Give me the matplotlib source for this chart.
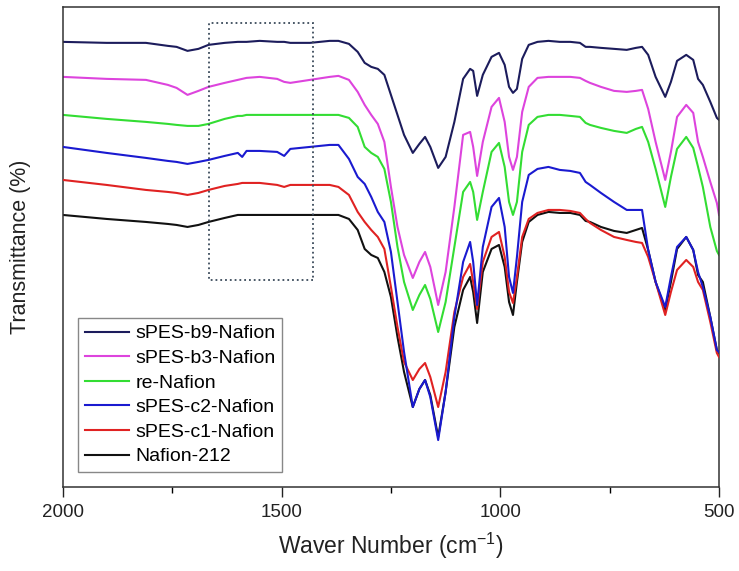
import matplotlib.pyplot as plt
from matplotlib.patches import Rectangle
from matplotlib.ticker import MultipleLocator

plt.rcParams['font.family'] = ['Liberation Sans', 'DejaVu Sans']
plt.rcParams['mathtext.fontset'] = 'custom'
plt.rcParams['mathtext.rm'] = 'Liberation Sans'
plt.rcParams['mathtext.default'] = 'regular'

# wavenumbers (cm-1) where the curves were read
wn = [2000, 1900, 1810, 1760, 1740, 1715, 1690, 1667, 1630, 1600, 1590, 1580,
      1550, 1510, 1494, 1480, 1435, 1390, 1370, 1346, 1326, 1310, 1295, 1280,
      1265, 1250, 1235, 1220, 1200, 1185, 1172, 1160, 1142, 1125, 1105, 1085,
      1069, 1062, 1053, 1040, 1020, 1003, 990, 980, 971, 962, 950, 935,
      915, 890, 864, 840, 818, 805, 795, 770, 740, 711, 690, 676,
      662, 645, 623, 610, 596, 575, 559, 548, 537, 520, 505, 500]

# transmittance, arbitrary units (curves are offset)
b9 = [445, 444, 444, 441, 440, 436, 438, 442, 444, 445, 445, 445,
      446, 445, 445, 444, 444, 446, 446, 443, 435, 424, 420, 418,
      412, 392, 372, 352, 334, 343, 350, 340, 319, 330, 365, 408,
      418, 416, 391, 412, 430, 434, 422, 400, 394, 398, 428, 442,
      445, 446, 445, 445, 444, 440, 440, 439, 438, 437, 439, 440,
      432, 410, 390, 405, 426, 432, 427, 408, 402, 385, 369, 367]
b3 = [410, 408, 407, 402, 399, 392, 396, 400, 404, 407, 408, 409,
      410, 408, 405, 404, 407, 410, 411, 407, 395, 382, 372, 363,
      345, 300, 260, 232, 209, 225, 235, 220, 182, 215, 280, 352,
      355, 340, 311, 345, 380, 389, 365, 330, 317, 330, 375, 400,
      409, 410, 410, 410, 409, 406, 404, 400, 396, 395, 396, 397,
      378, 345, 307, 335, 370, 382, 374, 345, 330, 305, 284, 272]
re_nafion = [372, 368, 365, 363, 362, 361, 361, 363, 368, 371, 371, 372,
             372, 372, 372, 372, 372, 372, 372, 369, 360, 340, 334, 330,
             318, 285, 240, 205, 177, 192, 202, 188, 155, 185, 240, 295,
             305, 295, 267, 295, 335, 344, 320, 285, 272, 285, 335, 362,
             370, 372, 372, 371, 370, 364, 362, 359, 356, 354, 358, 360,
             345, 318, 280, 310, 338, 350, 339, 320, 300, 260, 236, 232]
c2 = [340, 334, 329, 326, 325, 323, 325, 327, 331, 334, 330, 336,
      336, 335, 331, 338, 340, 342, 342, 328, 310, 303, 290, 275,
      265, 235, 185, 135, 80, 98, 107, 90, 47, 95, 170, 225,
      245, 225, 182, 240, 280, 289, 260, 210, 194, 230, 285, 312,
      318, 320, 317, 316, 314, 305, 302, 294, 285, 277, 277, 277,
      237, 205, 180, 210, 240, 250, 237, 215, 200, 170, 137, 135]
c1 = [307, 302, 297, 295, 294, 292, 294, 297, 301, 303, 304, 304,
      304, 302, 300, 302, 302, 302, 300, 292, 275, 265, 257, 250,
      238, 200, 160, 125, 107, 118, 124, 110, 80, 115, 175, 210,
      223, 205, 178, 225, 250, 255, 230, 195, 184, 210, 250, 268,
      274, 277, 277, 276, 274, 268, 264, 257, 250, 247, 245, 244,
      230, 205, 172, 195, 217, 227, 220, 205, 197, 165, 134, 130]
n212 = [272, 268, 265, 263, 262, 260, 262, 265, 269, 272, 272, 272,
        272, 272, 272, 272, 272, 272, 272, 268, 257, 238, 232, 229,
        215, 190, 150, 115, 80, 98, 107, 92, 50, 95, 160, 197,
        210, 195, 164, 215, 238, 242, 220, 185, 172, 205, 245, 265,
        272, 275, 274, 274, 272, 266, 265, 260, 256, 254, 257, 259,
        237, 205, 177, 205, 238, 250, 237, 212, 205, 170, 137, 134]

series = [
    ('sPES-b9-Nafion', b9, '#1c1c5c', 2),
    ('sPES-b3-Nafion', b3, '#dd44dd', 2),
    ('re-Nafion', re_nafion, '#33dd33', 2),
    ('sPES-c2-Nafion', c2, '#1a1ad0', 4),
    ('sPES-c1-Nafion', c1, '#e02222', 3),
    ('Nafion-212', n212, '#111111', 2),
]

# highlighted region
box_x = [1665, 1428]
box_y = [207, 464]

fig = plt.figure(figsize=(7.39, 5.71), dpi=100)
ax = fig.add_axes([0.085, 0.147, 0.888, 0.841])

for name, vals, col, z in series:
    ax.plot(wn, vals, color=col, lw=1.5, label=name, zorder=z)

ax.add_patch(Rectangle((box_x[1], box_y[0]), box_x[0] - box_x[1], box_y[1] - box_y[0],
                       fill=False, ls=':', lw=1.3, ec='#3a4a5a', zorder=5))

ax.set_xlim(2000, 500)
ax.set_ylim(0, 480)
ax.xaxis.set_major_locator(MultipleLocator(500))
ax.xaxis.set_minor_locator(MultipleLocator(250))
ax.set_yticks([])
ax.tick_params(axis='x', which='major', direction='out', length=7, width=1,
               labelsize=13.5, pad=5, colors='#222222')
ax.tick_params(axis='x', which='minor', direction='out', length=4, width=1)
for s in ax.spines.values():
    s.set_color('#333333')
    s.set_linewidth(1.1)

ax.set_xlabel('Waver Number (cm$^{-1}$)', fontsize=16.5, labelpad=7, color='#222222')
ax.set_ylabel('Transmittance (%)', fontsize=15.5, labelpad=23, color='#222222')

leg = ax.legend(loc='lower left', bbox_to_anchor=(0.023, 0.031), borderaxespad=0,
                fontsize=14, handlelength=2.3, handletextpad=0.3, labelspacing=0.36,
                borderpad=0.35, fancybox=False, framealpha=1, edgecolor='#888888')
leg.get_frame().set_linewidth(1.0)

fig.savefig('out.png', dpi=100)
